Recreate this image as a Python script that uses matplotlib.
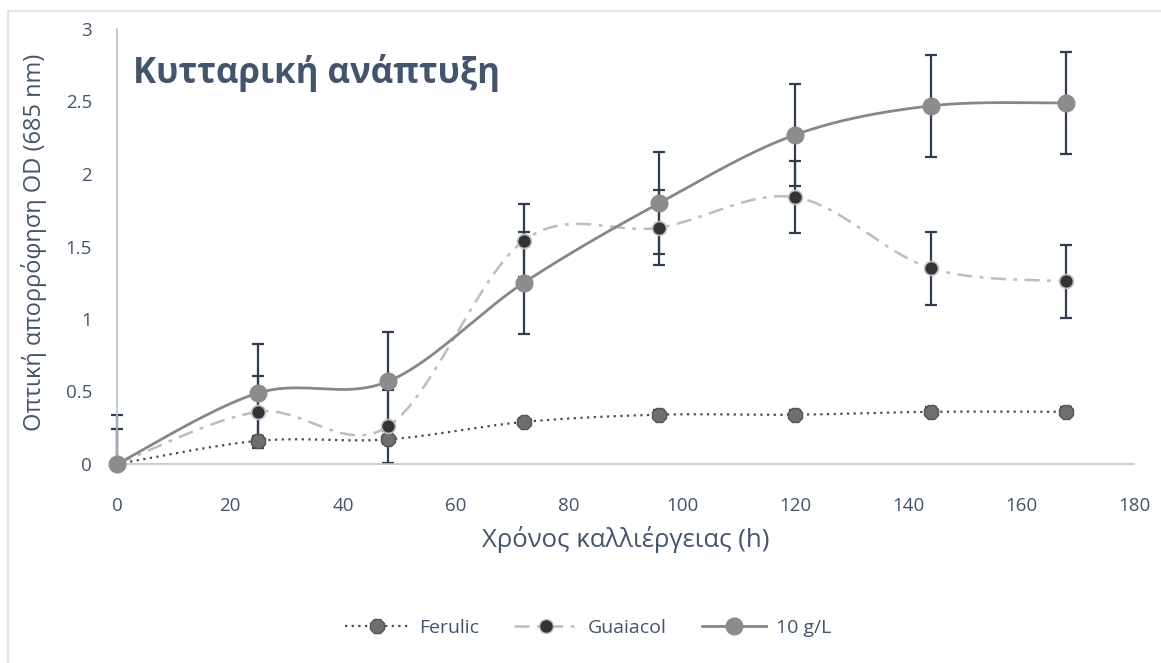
import numpy as np
import matplotlib.pyplot as plt
from matplotlib.patches import Rectangle

plt.rcParams['font.family'] = ['Open Sans', 'DejaVu Sans']

hours = [0, 25, 48, 72, 96, 120, 144, 168]
ferulic = [0, 0.16, 0.17, 0.29, 0.34, 0.34, 0.36, 0.36]
ferulic_err = [0, 0.03, 0.03, 0.03, 0.03, 0.03, 0.03, 0.03]
guaiacol = [0, 0.36, 0.26, 1.54, 1.63, 1.84, 1.35, 1.26]
guaiacol_err = [0.24, 0.25, 0.25, 0.25, 0.26, 0.25, 0.25, 0.25]
conc10 = [0, 0.49, 0.57, 1.25, 1.80, 2.27, 2.47, 2.49]
conc10_err = [0.34, 0.34, 0.34, 0.35, 0.35, 0.35, 0.35, 0.35]

txt = '#44546a'
axcol = '#b8c3d0'
barcol = '#2f3d52'

# pixel scale of the axes, so the smoothing works in screen space
sx = 1017 / 180.
sy = 435 / 3.


def smooth(x, y, n=40):
    P = np.column_stack([np.asarray(x) * sx, np.asarray(y) * sy])
    P = np.vstack([P[0], P, P[-1]])
    segs = []
    t = np.linspace(0, 1, n)[:, None]
    for i in range(1, len(P) - 2):
        p0, p1, p2, p3 = P[i - 1], P[i], P[i + 1], P[i + 2]
        c1 = p1 + (p2 - p0) / 6.
        c2 = p2 - (p3 - p1) / 6.
        seg = (1 - t)**3 * p1 + 3 * (1 - t)**2 * t * c1 + 3 * (1 - t) * t**2 * c2 + t**3 * p2
        segs.append(seg)
    S = np.vstack(segs)
    return S[:, 0] / sx, S[:, 1] / sy


fig = plt.figure(figsize=(11.61, 6.63), dpi=100)
ax = fig.add_axes([117 / 1161, 1 - 464 / 663, (1134 - 117) / 1161, (464 - 29) / 663])

fig.patches.append(Rectangle((8 / 1161, -0.05), 1.1, 1 - 11 / 663 + 0.05,
                             transform=fig.transFigure, fill=False,
                             edgecolor='#dcdfe4', linewidth=1.2, zorder=0))

# error bars, the lower part stops at the x axis
for y, e in [(ferulic, ferulic_err), (guaiacol, guaiacol_err), (conc10, conc10_err)]:
    lower = np.minimum(e, y)
    ax.errorbar(hours, y, yerr=[lower, e], fmt='none', ecolor=barcol, elinewidth=1.6,
                capsize=4.5, capthick=1.6, zorder=2, clip_on=False)

xs, ys = smooth(hours, ferulic)
ax.plot(xs, ys, color='#4a4a4a', linestyle=(0, (1, 2)), linewidth=1.6, zorder=3)
ax.plot(hours, ferulic, linestyle='none', marker='8', markersize=10.5,
        markerfacecolor='#6f6f6f', markeredgecolor='#505560', markeredgewidth=1, zorder=4)

xs, ys = smooth(hours, guaiacol)
ax.plot(xs, ys, color='#bdbdbd', linestyle=(0, (6, 3, 1.5, 3)), linewidth=1.8, zorder=3)
ax.plot(hours, guaiacol, linestyle='none', marker='o', markersize=10,
        markerfacecolor='#333333', markeredgecolor='#c0c0c0', markeredgewidth=1.2, zorder=4)

xs, ys = smooth(hours, conc10)
ax.plot(xs, ys, color='#878787', linestyle='-', linewidth=2, zorder=5)
ax.plot(hours, conc10, linestyle='none', marker='o', markersize=12,
        markerfacecolor='#8c8c8c', markeredgecolor='#8c8c8c', zorder=6, clip_on=False)

ax.set_xlim(0, 180)
ax.set_ylim(0, 3)
ax.set_xticks(np.arange(0, 181, 20))
ax.set_yticks([0, 0.5, 1, 1.5, 2, 2.5, 3])
ax.set_yticklabels(['0', '0.5', '1', '1.5', '2', '2.5', '3'])
ax.tick_params(length=0, labelsize=13.5, colors=txt)
ax.tick_params(axis='y', pad=18)
ax.tick_params(axis='x', pad=24)
for s in ['top', 'right']:
    ax.spines[s].set_visible(False)
for s in ['left', 'bottom']:
    ax.spines[s].set_color(axcol)
    ax.spines[s].set_linewidth(1.2)
ax.set_xlabel('Χρόνος καλλιέργειας (h)', fontsize=18.5, color=txt, labelpad=8)
ax.set_ylabel('Οπτική απορρόφηση OD (685 nm)', fontsize=17, color=txt)
ax.yaxis.set_label_coords(-70 / 1017, 0.51)

ax.text(0.016, 0.9, 'Κυτταρική ανάπτυξη', transform=ax.transAxes, fontsize=25,
        fontweight='bold', color=txt, va='center', ha='left')

h1 = plt.Line2D([], [], color='#4a4a4a', linestyle=(0, (1, 2)), linewidth=1.6, marker='8',
                markersize=10.5, markerfacecolor='#6f6f6f', markeredgecolor='#505560')
h2 = plt.Line2D([], [], color='#bdbdbd', linestyle=(0, (6, 3, 1.5, 3)), linewidth=1.8, marker='o',
                markersize=10, markerfacecolor='#333333', markeredgecolor='#c0c0c0')
h3 = plt.Line2D([], [], color='#878787', linewidth=2, marker='o', markersize=12,
                markerfacecolor='#8c8c8c', markeredgecolor='#8c8c8c')
leg = fig.legend([h1, h2, h3], ['Ferulic', 'Guaiacol', '10 g/L'], loc='center',
                 bbox_to_anchor=(588 / 1161, 1 - 628 / 663), ncol=3, frameon=False,
                 fontsize=14, handlelength=3.3, columnspacing=1.8, handletextpad=0.5)
for t in leg.get_texts():
    t.set_color(txt)

fig.savefig('out.png', dpi=100)
